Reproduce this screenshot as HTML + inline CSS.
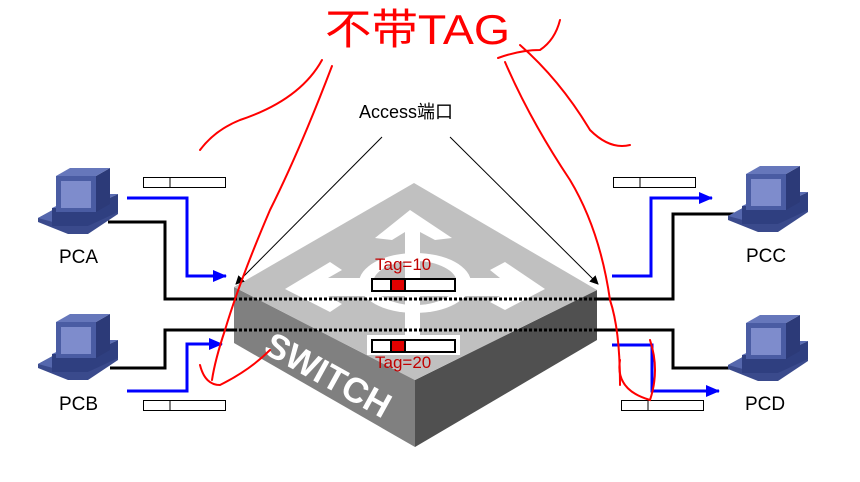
<!DOCTYPE html>
<html><head><meta charset="utf-8"><style>
html,body{margin:0;padding:0;background:#fff;width:860px;height:482px;overflow:hidden}
svg{display:block}
text{font-family:"Liberation Sans","Noto Sans CJK SC",sans-serif}
</style></head><body>
<svg width="860" height="482" viewBox="0 0 860 482" xmlns="http://www.w3.org/2000/svg">
<defs>
<g id="pc">
  <polygon points="0,50 22,38 80,38 80,46 50,66 30,66 0,54" fill="#3a4a8c"/>
  <polygon points="0,50 22,38 80,38 50,58 30,58" fill="#5567ad"/>
  <polygon points="14,40 50,40 80,26 80,44 50,58 14,58" fill="#2f3f80"/>
  <polygon points="14,40 44,26 80,26 50,40" fill="#5a6cb3"/>
  <polygon points="18,8 58,8 58,44 18,44" fill="#4a5ca3"/>
  <polygon points="58,8 72,0 72,36 58,44" fill="#2c3a78"/>
  <polygon points="18,8 32,0 72,0 58,8" fill="#6677bb"/>
  <rect x="23" y="13" width="30" height="27" fill="#7e8ccc"/>
</g>
<marker id="ab" markerWidth="14" markerHeight="12" refX="13" refY="6" orient="auto" markerUnits="userSpaceOnUse" viewBox="0 0 14 12"><path d="M0,0 L14,6 L0,12z" fill="#00f"/></marker>
<marker id="ak" markerWidth="9" markerHeight="9" refX="8" refY="4.5" orient="auto" markerUnits="userSpaceOnUse" viewBox="0 0 9 9"><path d="M0,0 L9,4.5 L0,9z" fill="#000"/></marker>
</defs>

<polygon points="234,287 415,380 415,447 234,343" fill="#808080"/>
<polygon points="415,380 597,290 597,340 415,447" fill="#505050"/>
<polygon points="414,183 597,290 415,380 234,287" fill="#c0c0c0"/>
<g fill="#fff">
  <ellipse cx="415" cy="283" rx="56" ry="30"/>
  <ellipse cx="415" cy="283" rx="42" ry="22" fill="#c0c0c0"/>
  <polygon points="375,238 410,210 452,238 435,240 420,232 420,350 405,350 405,232 392,240"/>
  <polygon points="285,289 330,262 342,270 328,278 500,278 490,270 505,262 545,289 505,310 490,302 500,296 328,296 342,304 330,312"/>
</g>
<text x="262" y="352" transform="rotate(29 262 352)" font-size="35" font-weight="bold" fill="#fff">SWITCH</text>
<rect x="372" y="279" width="83" height="12" fill="#fff" stroke="#000" stroke-width="2"/>
<rect x="391" y="279" width="14" height="12" fill="#e00000" stroke="#000" stroke-width="2"/>
<rect x="367" y="335" width="93" height="20" fill="#fff"/>
<rect x="372" y="340" width="83" height="12" fill="#fff" stroke="#000" stroke-width="2"/>
<rect x="391" y="340" width="14" height="12" fill="#e00000" stroke="#000" stroke-width="2"/>
<text x="375" y="270" font-size="17" fill="#c00000">Tag=10</text>
<text x="375" y="368" font-size="17" fill="#c00000">Tag=20</text>

<g fill="none" stroke="#000" stroke-width="3">
<polyline points="108,222 165,222 165,299 234,299"/>
<polyline points="110,368 165,368 165,330 234,330"/>
<polyline points="597,299 673,299 673,214 738,214"/>
<polyline points="597,330 673,330 673,368 730,368"/>
<line x1="234" y1="299" x2="597" y2="299" stroke-dasharray="3,2"/>
<line x1="234" y1="330" x2="597" y2="330" stroke-dasharray="3,2"/>
</g>
<g fill="none" stroke="#00f" stroke-width="3">
<polyline points="127,198 187,198 187,276 226,276" marker-end="url(#ab)"/>
<polyline points="127,391 187,391 187,344 222,344" marker-end="url(#ab)"/>
<polyline points="612,276 651,276 651,198 712,198" marker-end="url(#ab)"/>
<polyline points="612,345 652,345 652,391 719,391" marker-end="url(#ab)"/>
</g>
<g fill="#fff" stroke="#000" stroke-width="1">
<rect x="143.5" y="177.5" width="82" height="10"/><line x1="170" y1="177" x2="170" y2="188"/>
<rect x="143.5" y="400.5" width="82" height="10"/><line x1="170" y1="400" x2="170" y2="411"/>
<rect x="613.5" y="177.5" width="82" height="10"/><line x1="640" y1="177" x2="640" y2="188"/>
<rect x="621.5" y="400.5" width="82" height="10"/><line x1="648" y1="400" x2="648" y2="411"/>
</g>

<use href="#pc" x="38" y="168"/>
<use href="#pc" x="38" y="314"/>
<use href="#pc" x="728" y="166"/>
<use href="#pc" x="728" y="315"/>
<text x="59" y="263" font-size="19">PCA</text>
<text x="59" y="410" font-size="19">PCB</text>
<text x="746" y="262" font-size="19">PCC</text>
<text x="745" y="410" font-size="19">PCD</text>

<text x="359" y="118" font-size="18">Access端口</text>
<g stroke="#000" stroke-width="1" fill="none">
<line x1="382" y1="137" x2="236" y2="284" marker-end="url(#ak)"/>
<line x1="450" y1="137" x2="598" y2="284" marker-end="url(#ak)"/>
</g>

<text x="325" y="44" font-size="42" fill="#f00" textLength="185" lengthAdjust="spacingAndGlyphs">不带TAG</text>
<g fill="none" stroke="#f00" stroke-width="2" stroke-linecap="round">
<path d="M322,60 Q300,100 240,120 Q215,130 200,150"/>
<path d="M332,66 Q300,150 270,210 Q240,280 225,330 Q215,360 212,380"/>
<path d="M270,350 Q250,370 220,385 Q205,385 200,365"/>
<path d="M505,62 Q530,120 570,180 Q600,230 610,300 Q620,330 620,385"/>
<path d="M520,45 Q560,80 590,130 Q610,150 630,145"/>
<path d="M620,360 Q615,390 650,400 Q660,370 650,340"/>
<path d="M498,58 Q520,50 540,50 Q555,40 560,20"/>
</g>
</svg>
</body></html>
